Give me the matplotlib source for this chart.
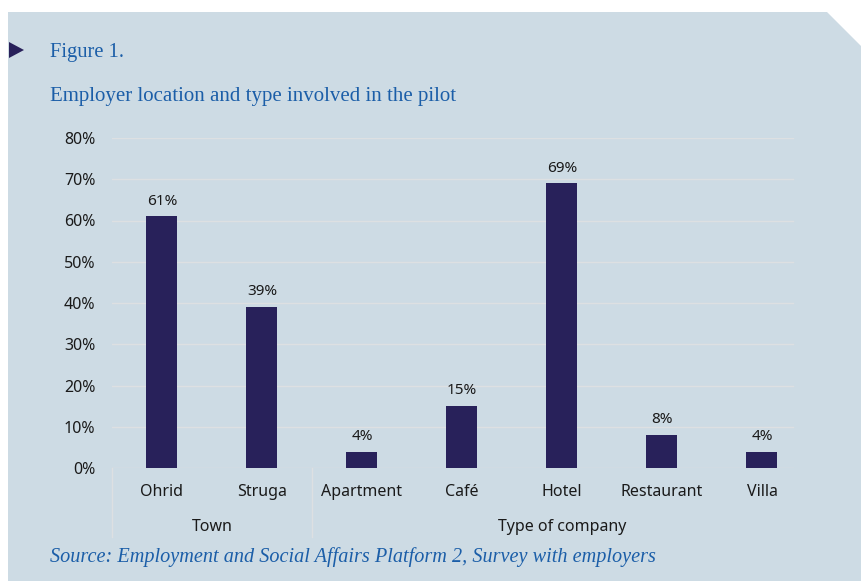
import matplotlib
matplotlib.use("Agg")
import matplotlib.pyplot as plt
from matplotlib.patches import Polygon
from matplotlib.lines import Line2D

categories = ["Ohrid", "Struga", "Apartment", "Café", "Hotel", "Restaurant", "Villa"]
values = [61, 39, 4, 15, 69, 8, 4]
value_labels = ["61%", "39%", "4%", "15%", "69%", "8%", "4%"]
groups = ["Town", "Type of company"]
group_sizes = [2, 5]
yticks = [0, 10, 20, 30, 40, 50, 60, 70, 80]
ytick_labels = ["0%", "10%", "20%", "30%", "40%", "50%", "60%", "70%", "80%"]

W, H = 862, 581
BG = "#cddbe4"
BAR = "#28215a"
BLUE = "#1b5ea8"
GRID = "#dde0e2"
SANS = ["Noto Sans", "DejaVu Sans"]
SERIF = ["Liberation Serif", "DejaVu Serif"]

fig = plt.figure(figsize=(W / 100, H / 100), dpi=100)
fig.patch.set_facecolor("white")

def fx(px):
    return px / W

def fy(py):
    return 1 - py / H

# background panel with cut corner
panel = Polygon([(fx(8), fy(12)), (fx(827), fy(12)), (fx(862), fy(47)),
                 (fx(862), fy(581)), (fx(8), fy(581))],
                closed=True, transform=fig.transFigure, facecolor=BG,
                edgecolor="none", zorder=-10)
fig.patches.append(panel)

# triangle marker
tri = Polygon([(fx(9), fy(42)), (fx(24), fy(50)), (fx(9), fy(58))],
              closed=True, transform=fig.transFigure, facecolor=BAR,
              edgecolor="none", zorder=-5)
fig.patches.append(tri)

fig.text(fx(50), fy(53), "Figure 1.", family=SERIF, fontsize=14.8, color=BLUE,
         va="center", ha="left")
fig.text(fx(50), fy(97), "Employer location and type involved in the pilot",
         family=SERIF, fontsize=15, color=BLUE, va="center", ha="left")
fig.text(fx(50), fy(557), "Source: Employment and Social Affairs Platform 2, Survey with employers",
         family=SERIF, style="italic", fontsize=14.6, color=BLUE, va="center", ha="left")

ax_left, ax_right = 112, 812
ax_top, ax_bottom = 138, 468
ax = fig.add_axes([fx(ax_left), fy(ax_bottom), (ax_right - ax_left) / W,
                   (ax_bottom - ax_top) / H])
ax.set_zorder(5)
ax.patch.set_alpha(0)
n = len(categories)
ax.set_xlim(-0.5, n - 0.5)
ax.set_ylim(0, 80)

grid_xmax = (793 - ax_left) / (ax_right - ax_left)
for t in yticks:
    ax.axhline(t, xmin=0, xmax=grid_xmax, color=GRID, lw=1, zorder=1)

x = list(range(n))
ax.bar(x, values, width=0.31, color=BAR, zorder=2)
for xi, v, lab in zip(x, values, value_labels):
    ax.annotate(lab, (xi, v), xytext=(0, 5.5), textcoords="offset points",
                ha="center", va="bottom", family=SANS, fontsize=11, color="#1a1a1a")

for s in ax.spines.values():
    s.set_visible(False)
ax.set_yticks(yticks)
ax.set_yticklabels(ytick_labels, family=SANS, fontsize=11.5, color="#1a1a1a")
ax.tick_params(axis="y", length=0, pad=12)
ax.set_xticks(x)
ax.set_xticklabels(categories, family=SANS, fontsize=11.5, color="#1a1a1a")
ax.tick_params(axis="x", length=0, pad=11.5)

# group labels and separators
start = 0
for g, size in zip(groups, group_sizes):
    center = start + (size - 1) / 2
    ax.annotate(g, xy=(center, 0), xycoords=("data", "axes fraction"),
                xytext=(0, -42.5), textcoords="offset points", ha="center",
                va="center", family=SANS, fontsize=11.5, color="#1a1a1a")
    start += size

sep_positions = [-0.5, group_sizes[0] - 0.5]
for sp in sep_positions:
    px = ax_left + (sp + 0.5) * (ax_right - ax_left) / n
    fig.add_artist(Line2D([fx(px), fx(px)], [fy(468), fy(537)],
                          transform=fig.transFigure, color=GRID, lw=1))

fig.savefig("out.png", dpi=100, facecolor=fig.get_facecolor())
